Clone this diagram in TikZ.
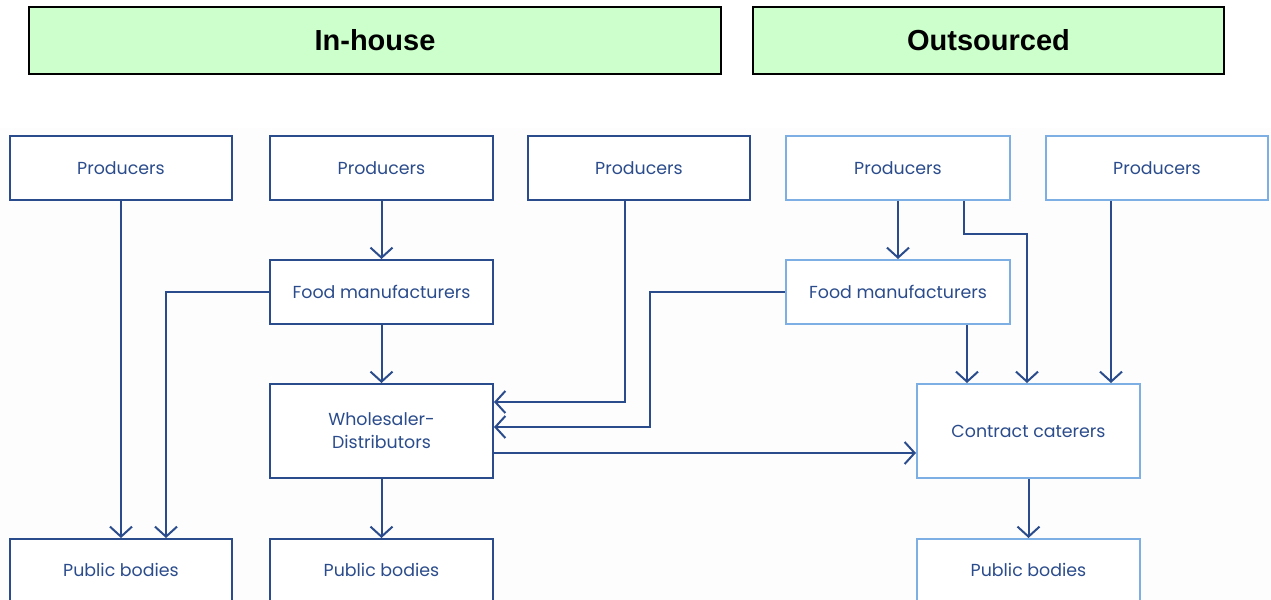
\documentclass[tikz,border=0pt]{standalone}
\usepackage{fontspec}
\setmainfont{Poppins}
\newfontfamily\headfont{Liberation Sans}
\usetikzlibrary{arrows.meta}
\definecolor{navy}{RGB}{43,76,140}
\definecolor{lightb}{RGB}{125,175,228}
\definecolor{hdrgreen}{RGB}{204,255,204}
\definecolor{bggray}{RGB}{253,253,253}
\tikzset{
  hdr/.style={draw=black, line width=1pt, fill=hdrgreen, font=\headfont\bfseries\fontsize{14.5}{17}\selectfont, text=black},
  boxfont/.style={font=\fontsize{8.7}{11.5}\selectfont, text=navy},
  dbox/.style={draw=navy, line width=1pt, fill=white, boxfont, align=center},
  lbox/.style={draw=lightb, line width=1pt, fill=white, boxfont, align=center},
  conn/.style={draw=navy, line width=1pt, -{Straight Barb[length=5pt,width=11pt,line width=1pt]}}
}
\begin{document}
\begin{tikzpicture}[x=0.5pt,y=-0.5pt]
\useasboundingbox (0,0) rectangle (1271,600);
\clip (0,0) rectangle (1271,600);
\fill[white] (0,0) rectangle (1271,600);
\fill[bggray] (0,128) rectangle (1271,600);
% headers
\node[hdr, minimum width=346pt, minimum height=33.5pt] (h1) at (375,40.5) {In-house};
\node[hdr, minimum width=235.5pt, minimum height=33.5pt] (h2) at (988.5,40.5) {Outsourced};
% producers
\node[dbox, minimum width=111pt, minimum height=32pt] (p1) at (121,168) {Producers};
\node[dbox, minimum width=111.5pt, minimum height=32pt] (p2) at (381.5,168) {Producers};
\node[dbox, minimum width=111pt, minimum height=32pt] (p3) at (639,168) {Producers};
\node[lbox, minimum width=112pt, minimum height=32pt] (p4) at (898,168) {Producers};
\node[lbox, minimum width=111pt, minimum height=32pt] (p5) at (1157,168) {Producers};
% food manufacturers
\node[dbox, minimum width=111.5pt, minimum height=32pt] (f1) at (381.5,292) {Food manufacturers};
\node[lbox, minimum width=112pt, minimum height=32pt] (f2) at (898,292) {Food manufacturers};
% wholesaler and caterers
\node[dbox, minimum width=111.5pt, minimum height=47pt] (w) at (381.5,431) {Wholesaler-\\Distributors};
\node[lbox, minimum width=111.5pt, minimum height=47pt] (c) at (1028.5,431) {Contract caterers};
% public bodies (cut at bottom)
\node[dbox, minimum width=111pt, minimum height=40pt, anchor=north, inner sep=0pt] (b1) at (121,538) {};
\node[dbox, minimum width=111.5pt, minimum height=40pt, anchor=north, inner sep=0pt] (b2) at (381.5,538) {};
\node[lbox, minimum width=111.5pt, minimum height=40pt, anchor=north, inner sep=0pt] (b3) at (1028.5,538) {};
\node[boxfont] (t1) at (121,570) {Public bodies};
\node[boxfont] (t2) at (381.5,570) {Public bodies};
\node[boxfont] (t3) at (1028.5,570) {Public bodies};
% connectors
\draw[conn] (p1.south) -- (b1.north -| p1.south);
\draw[conn] (f1.west) -| (166,0 |- b1.north);
\draw[conn] (p2.south) -- (f1.north);
\draw[conn] (f1.south) -- (w.north);
\draw[conn] (p3.south -| 625,0) |- (w.east |- 0,402);
\draw[conn] (f2.west) -| (650,427) -- (w.east |- 0,427);
\draw[conn] (w.east |- 0,453) -- (c.west |- 0,453);
\draw[conn] (w.south) -- (b2.north);
\draw[conn] (p4.south) -- (f2.north);
\draw[conn] (p4.south -| 964,0) |- (1027,234) -- (c.north -| 1027,0);
\draw[conn] (f2.south -| 967,0) -- (c.north -| 967,0);
\draw[conn] (p5.south -| 1111,0) -- (c.north -| 1111,0);
\draw[conn] (c.south) -- (b3.north);
\end{tikzpicture}
\end{document}
